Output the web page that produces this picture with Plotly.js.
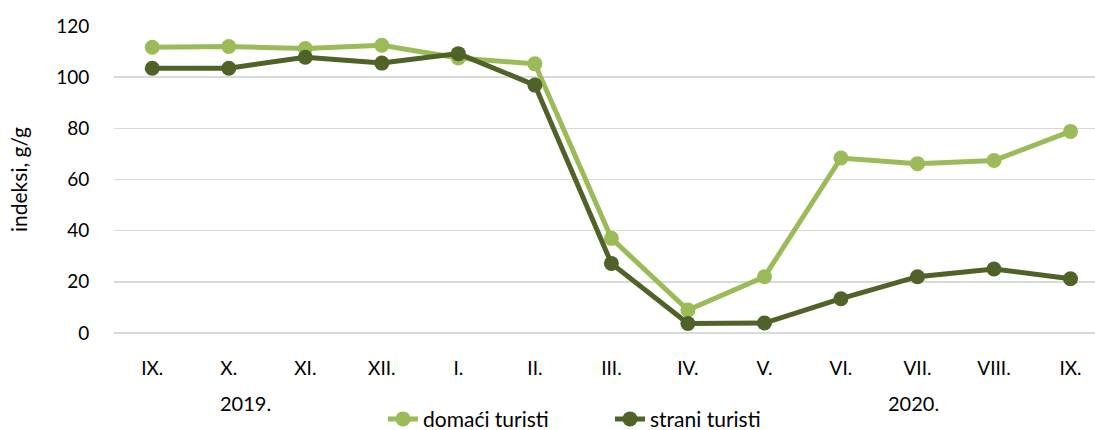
<!DOCTYPE html>
<html><head><meta charset="utf-8">
<script src="https://cdn.plot.ly/plotly-3.0.1.min.js"></script>
<style>html,body{margin:0;padding:0;background:#fff}</style>
</head><body>
<div id="chart" style="width:1095px;height:430px"></div>
<script>
const months = ["IX.","X.","XI.","XII.","I.","II.","III.","IV.","V.","VI.","VII.","VIII.","IX."];
const domaci = [111.7,112.0,111.2,112.5,107.5,105.2,37.0,9.0,22.0,68.4,66.2,67.4,78.8];
const strani = [103.5,103.5,107.8,105.5,109.2,96.9,27.2,3.7,3.9,13.4,22.0,25.0,21.2];
const yearLabels = ["2019.","2020."];
const yearPos = [1.22,9.95];

const xs = months.map((m,i)=>i);
const fam = "Lato, 'Open Sans', sans-serif";

const traces = [
  {x:xs, y:domaci, name:"domaći turisti", type:"scatter", mode:"lines+markers",
   line:{color:"#9BBB59", width:5}, marker:{color:"#9BBB59", size:15}, cliponaxis:false},
  {x:xs, y:strani, name:"strani turisti", type:"scatter", mode:"lines+markers",
   line:{color:"#4F6228", width:5}, marker:{color:"#4F6228", size:15}, cliponaxis:false}
];

const layout = {
  width:1095, height:430,
  margin:{l:114, r:0, t:26, b:97, autoexpand:false},
  paper_bgcolor:"#fff", plot_bgcolor:"#fff",
  font:{family:fam, size:19, color:"#000"},
  showlegend:true,
  legend:{orientation:"h", xref:"container", x:383/1095, xanchor:"left",
          yref:"container", y:0.025, yanchor:"middle",
          entrywidth:182, entrywidthmode:"pixels",
          font:{family:fam, size:21, color:"#000"}, tracegroupgap:0},
  xaxis:{range:[-0.5,12.32], tickmode:"array", tickvals:xs, ticktext:months,
         showgrid:false, zeroline:false, showline:false,
         ticks:"outside", ticklen:18, tickcolor:"rgba(0,0,0,0)",
         tickfont:{family:fam, size:19, color:"#000"}},
  yaxis:{range:[0,120], dtick:20, showgrid:true, gridcolor:"#d9d9d9", gridwidth:1.5,
         zeroline:true, zerolinecolor:"#d9d9d9", zerolinewidth:1.5, showline:false,
         ticks:"outside", ticklen:20, tickcolor:"rgba(0,0,0,0)",
         tickfont:{family:fam, size:19, color:"#000"},
         title:{text:"indeksi, g/g", font:{family:fam, size:21, color:"#000"}, standoff:22}},
  annotations: yearLabels.map((t,i)=>({x:yearPos[i], xref:"x", y:(333-403)/307, yref:"paper",
     text:t, showarrow:false, yanchor:"middle", font:{family:fam, size:20, color:"#000"}}))
};

Plotly.newPlot("chart", traces, layout, {displayModeBar:false, staticPlot:true});
</script>
</body></html>
